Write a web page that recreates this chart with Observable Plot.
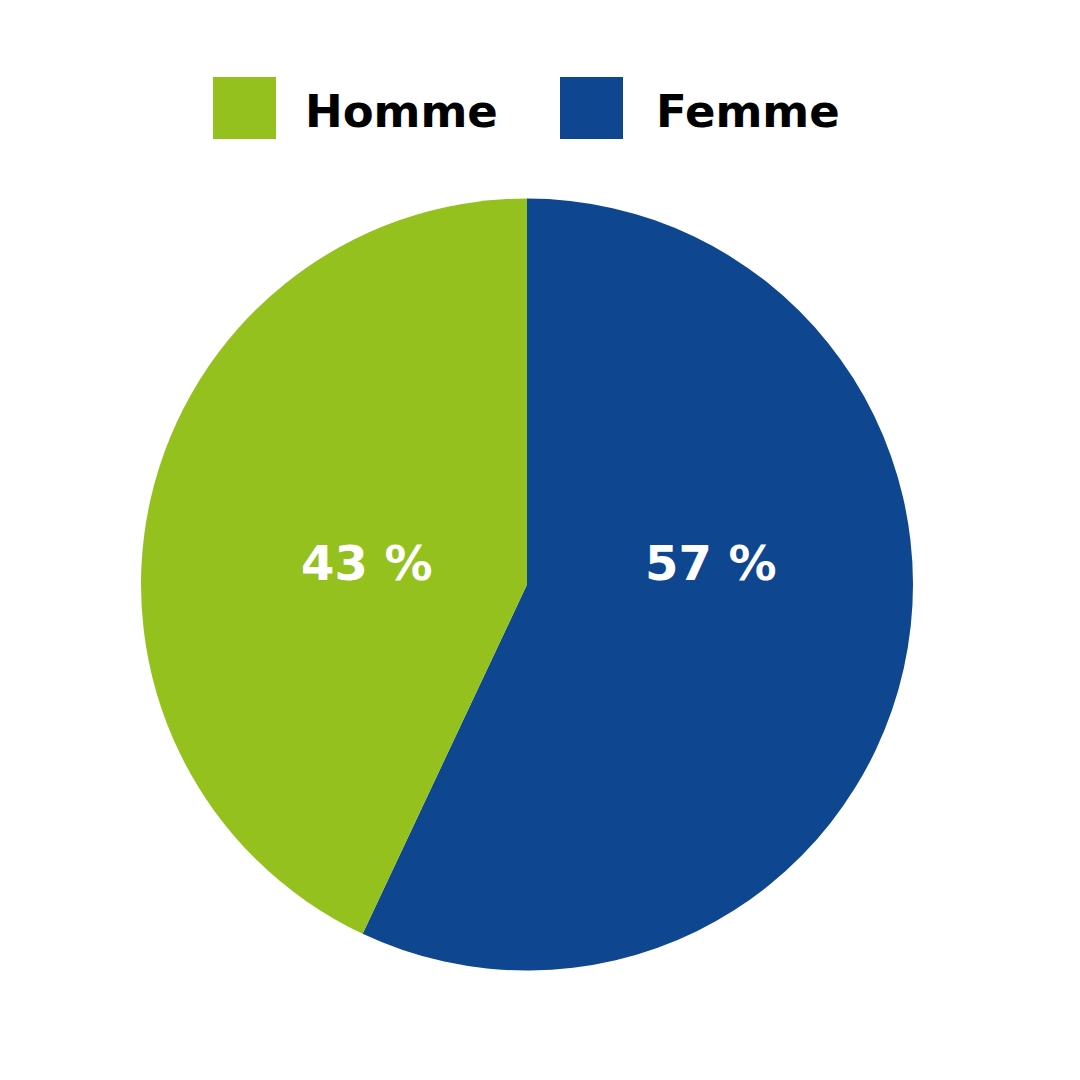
<!DOCTYPE html>
<html><head><meta charset="utf-8">
<script src="https://cdn.jsdelivr.net/npm/d3@7"></script>
<script src="https://cdn.jsdelivr.net/npm/@observablehq/plot@0.6"></script>
<style>
html,body{margin:0;padding:0;background:#fff;}
#wrap{width:1080px;height:1080px;position:relative;overflow:hidden;}
#legend{height:170px;position:relative;font-family:"DejaVu Sans",sans-serif;font-weight:700;}
.sw{position:absolute;top:77px;width:63px;height:62px;}
.lt{position:absolute;top:85px;font-size:45px;line-height:54px;color:#000;letter-spacing:0px;}
</style></head>
<body><div id="wrap"><div id="legend"></div><div id="chart"></div></div>
<script>
const categories = ["Femme", "Homme"];
const values = [57, 43];
const labels = ["57 %", "43 %"];
const legendOrder = ["Homme", "Femme"];
const colors = {Homme: "#95C11F", Femme: "#0E4690"};

// legend
const legend = document.getElementById("legend");
const legendPos = {Homme: [213, 305], Femme: [560, 656]};
legendOrder.forEach(c => {
  const s = document.createElement("div"); s.className = "sw";
  s.style.left = legendPos[c][0] + "px"; s.style.background = colors[c];
  legend.appendChild(s);
  const t = document.createElement("div"); t.className = "lt";
  t.style.left = legendPos[c][1] + "px"; t.textContent = c;
  legend.appendChild(t);
});

const data = categories.map((c, i) => ({category: c, value: values[i], label: labels[i]}));
const labelRadius = {Femme: 0.488, Homme: 0.425};

const pieMark = (index, scales) => {
  const cx = scales.x(0), cy = scales.y(0), r = scales.x(1) - scales.x(0);
  const arcs = d3.pie().sort(null).value(d => d.value)(data);
  const arc = d3.arc().innerRadius(0).outerRadius(r);
  const g = d3.create("svg:g").attr("transform", `translate(${cx},${cy})`);
  g.selectAll("path").data(arcs).join("path")
    .attr("d", arc)
    .attr("fill", d => scales.color(d.data.category));
  g.selectAll("text").data(arcs).join("text")
    .attr("x", d => Math.sin((d.startAngle + d.endAngle) / 2) * r * labelRadius[d.data.category])
    .attr("y", -22)
    .attr("text-anchor", "middle")
    .attr("dominant-baseline", "central")
    .attr("fill", "#fff")
    .attr("font-family", "'DejaVu Sans', sans-serif")
    .attr("font-weight", 700)
    .attr("font-size", 48)
    .text(d => d.data.label);
  return g.node();
};

const chart = Plot.plot({
  width: 1080,
  height: 910,
  margin: 0,
  x: {domain: [-1, 1], range: [141, 913], axis: null},
  y: {domain: [-1, 1], range: [414.5 + 386.5, 414.5 - 386.5], axis: null},
  color: {domain: categories, range: categories.map(c => colors[c])},
  style: {background: "#fff"},
  marks: [pieMark]
});
document.getElementById("chart").appendChild(chart);
</script>
</body></html>
